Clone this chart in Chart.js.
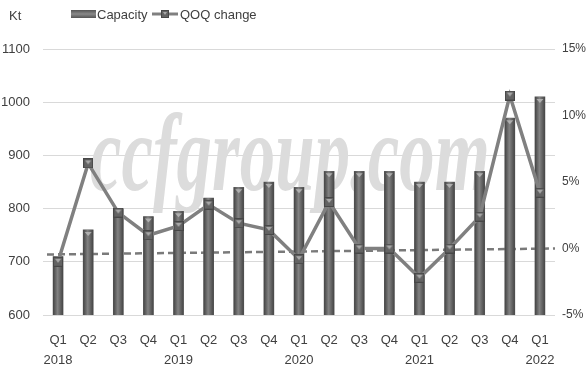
<!DOCTYPE html>
<html>
<head>
<meta charset="utf-8">
<script src="https://cdn.jsdelivr.net/npm/chart.js@4/dist/chart.umd.min.js"></script>
<style>
  html, body { margin: 0; padding: 0; background: #ffffff; }
  #wrap { width: 587px; height: 370px; position: relative; }
</style>
</head>
<body>
<div id="wrap"><canvas id="chart" width="587" height="370"></canvas></div>
<script>
// Quarterly capacity (Kt) and quarter-on-quarter change (%)
const quarters = ['Q1','Q2','Q3','Q4','Q1','Q2','Q3','Q4','Q1','Q2','Q3','Q4','Q1','Q2','Q3','Q4','Q1'];
const years    = ['2018','','','','2019','','','','2020','','','','2021','','','','2022'];
const capacity = [710, 760, 800, 785, 795, 820, 840, 850, 840, 870, 870, 870, 850, 850, 870, 970, 1010];
const qoqChange = [-1.0, 6.4, 2.7, 1.0, 1.7, 3.3, 1.9, 1.4, -0.8, 3.5, 0.0, 0.0, -2.2, 0.0, 2.4, 11.5, 4.2];
// dashed reference line on the % axis: value at left edge, value at right edge
const zeroGuide = [-0.45, 0.0];
const capacityRange = [600, 1100, 100];
const changeRange = [-5, 15, 5];

const FONT = '"Liberation Sans", Arial, sans-serif';
const TEXT = '#404040';
Chart.defaults.font.family = FONT;
Chart.defaults.color = TEXT;

const labels = quarters.map((q, i) => [q, years[i]]);

// square marker with a light inverted triangle
function makeMarker(size) {
  const c = document.createElement('canvas');
  c.width = size; c.height = size;
  const g = c.getContext('2d');
  g.fillStyle = '#474747';
  g.fillRect(0, 0, size, size);
  g.fillStyle = '#636363';
  g.fillRect(1, 1, size - 2, size - 2);
  g.fillStyle = '#a8a8a8';
  g.beginPath();
  g.moveTo(2, 2);
  g.lineTo(size - 2, 2);
  g.lineTo(size / 2, size / 2 + 1);
  g.closePath();
  g.fill();
  return c;
}
const marker = makeMarker(10);
const legendMarker = makeMarker(8);

// faint site name behind the marks
const watermark = {
  id: 'watermark',
  beforeDatasetsDraw(chart) {
    const { ctx, chartArea } = chart;
    ctx.save();
    ctx.font = 'italic bold 110px "Liberation Serif", serif';
    const w = ctx.measureText('ccfgroup.com').width;
    ctx.translate(chartArea.left + 47, chartArea.top + 141);
    ctx.scale(400 / w, 1);
    ctx.fillStyle = '#dcdcdc';
    ctx.fillText('ccfgroup.com', 0, 0);
    ctx.restore();
  }
};

// dashed reference line across the plot
const guideLine = {
  id: 'guideLine',
  beforeDatasetsDraw(chart) {
    const { ctx, chartArea, scales } = chart;
    const y1 = scales.y1;
    ctx.save();
    ctx.setLineDash([7, 4]);
    ctx.strokeStyle = '#7a7a7a';
    ctx.lineWidth = 2.5;
    ctx.beginPath();
    ctx.moveTo(chartArea.left + 4, y1.getPixelForValue(zeroGuide[0]));
    ctx.lineTo(chartArea.right, y1.getPixelForValue(zeroGuide[1]));
    ctx.stroke();
    ctx.restore();
  }
};

// cylinder shading and top highlight on each bar
const barShade = {
  id: 'barShade',
  afterDatasetDraw(chart, args) {
    if (args.meta.type !== 'bar') return;
    const { ctx, chartArea } = chart;
    ctx.save();
    ctx.beginPath();
    ctx.rect(chartArea.left, chartArea.top, chartArea.right - chartArea.left, chartArea.bottom - chartArea.top);
    ctx.clip();
    args.meta.data.forEach(el => {
      const { x, y, base, width } = el.getProps(['x', 'y', 'base', 'width'], true);
      const l = x - width / 2;
      const grad = ctx.createLinearGradient(l, 0, l + width, 0);
      grad.addColorStop(0, '#434343');
      grad.addColorStop(0.45, '#828282');
      grad.addColorStop(1, '#454545');
      ctx.fillStyle = grad;
      ctx.fillRect(l, y, width, base - y);
      ctx.fillStyle = 'rgba(185,185,185,0.85)';
      ctx.beginPath();
      ctx.moveTo(x - 3.5, y + 2);
      ctx.lineTo(x + 3.5, y + 2);
      ctx.lineTo(x, y + 6);
      ctx.closePath();
      ctx.fill();
    });
    ctx.restore();
  }
};

// unit caption and legend row
const header = {
  id: 'header',
  afterDraw(chart) {
    const ctx = chart.ctx;
    ctx.save();
    ctx.font = '13px ' + FONT;
    ctx.fillStyle = TEXT;
    ctx.textBaseline = 'middle';
    ctx.textAlign = 'left';
    ctx.fillText('Kt', 9, 16);

    // Capacity swatch
    const g = ctx.createLinearGradient(0, 10, 0, 18);
    g.addColorStop(0, '#555555');
    g.addColorStop(0.5, '#8a8a8a');
    g.addColorStop(1, '#555555');
    ctx.fillStyle = g;
    ctx.fillRect(71, 10, 25, 8);
    ctx.fillStyle = TEXT;
    ctx.fillText('Capacity', 97, 15);

    // QOQ change swatch
    ctx.strokeStyle = '#808080';
    ctx.lineWidth = 3;
    ctx.beginPath();
    ctx.moveTo(152, 14);
    ctx.lineTo(178, 14);
    ctx.stroke();
    ctx.drawImage(legendMarker, 165 - 4, 14 - 4);
    ctx.fillText('QOQ change', 180, 15);
    ctx.restore();
  }
};

new Chart(document.getElementById('chart'), {
  data: {
    labels: labels,
    datasets: [
      {
        type: 'line',
        label: 'QOQ change',
        data: qoqChange,
        yAxisID: 'y1',
        order: 1,
        borderColor: '#808080',
        borderWidth: 3.5,
        tension: 0,
        pointStyle: marker,
        pointRadius: 5,
        pointHoverRadius: 5
      },
      {
        type: 'bar',
        label: 'Capacity',
        data: capacity,
        yAxisID: 'y',
        order: 2,
        backgroundColor: '#686868',
        barThickness: 10
      }
    ]
  },
  plugins: [watermark, guideLine, barShade, header],
  options: {
    responsive: false,
    animation: false,
    events: [],
    layout: { padding: { top: 49, left: 0, right: 0, bottom: 0 } },
    plugins: {
      legend: { display: false },
      tooltip: { enabled: false }
    },
    scales: {
      x: {
        offset: true,
        grid: { display: false, drawTicks: false },
        border: { display: false },
        afterFit(scale) { scale.height = 55; },
        ticks: {
          padding: 15,
          maxRotation: 0,
          autoSkip: false,
          font: { size: 13, lineHeight: 1.55 },
          color: TEXT
        }
      },
      y: {
        position: 'left',
        min: capacityRange[0],
        max: capacityRange[1],
        afterFit(scale) { scale.width = 43; },
        grid: { color: '#d9d9d9', drawTicks: false, lineWidth: 1 },
        border: { display: false },
        ticks: {
          stepSize: capacityRange[2],
          padding: 13,
          font: { size: 13 },
          color: TEXT,
          callback: v => String(v)
        }
      },
      y1: {
        position: 'right',
        min: changeRange[0],
        max: changeRange[1],
        afterFit(scale) { scale.width = 32; },
        grid: { display: false, drawTicks: false },
        border: { display: false },
        ticks: {
          stepSize: changeRange[2],
          padding: 7,
          font: { size: 12 },
          color: TEXT,
          callback: v => v + '%'
        }
      }
    }
  }
});
</script>
</body>
</html>
